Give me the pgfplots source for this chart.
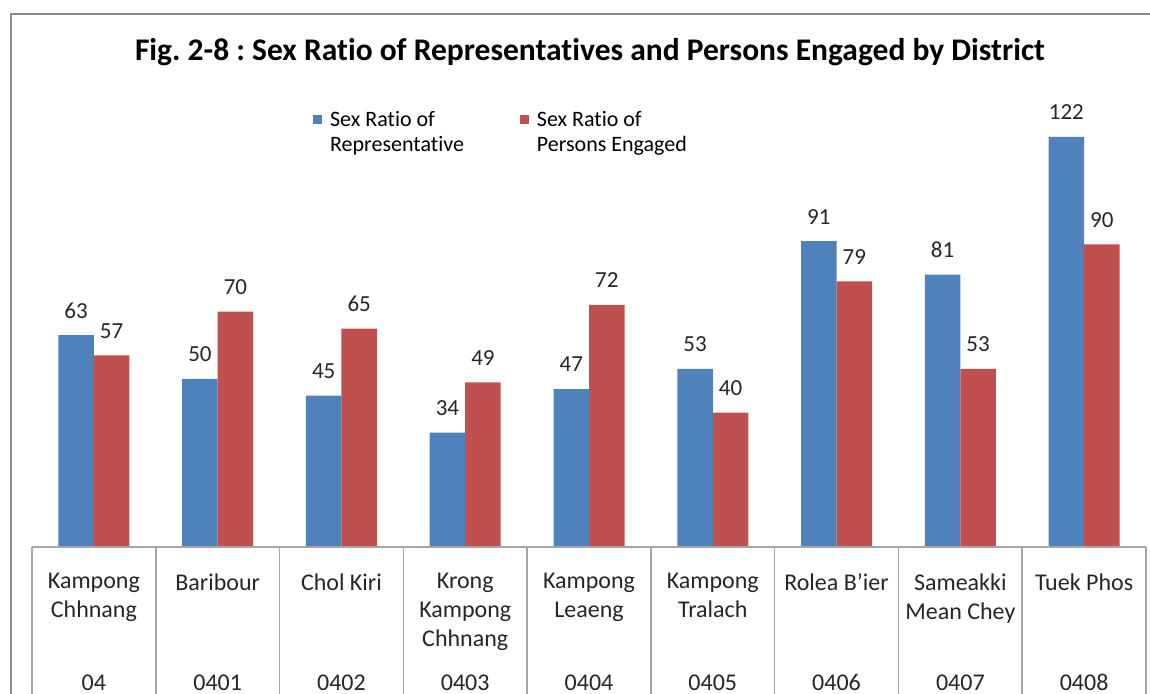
\documentclass[border=0pt]{standalone}
\usepackage{fontspec}
\setmainfont{Carlito}[Ligatures={TeX,NoCommon}]
\usepackage{pgfplots}
\pgfplotsset{compat=1.18}
\frenchspacing

\definecolor{repblue}{HTML}{4F81BD}
\definecolor{engred}{HTML}{C0504D}
\definecolor{tablegray}{HTML}{A6A6A6}
\definecolor{framegray}{HTML}{8C8C8C}
\definecolor{labeltext}{HTML}{262626}

% 1 px of the reference = 0.5pt
\begin{document}
\begin{tikzpicture}
\useasboundingbox (0,0) rectangle (575pt,346.5pt);
\clip (0,0) rectangle (575pt,346.5pt);

% outer chart frame (cut by the picture edge on the right and bottom)
\draw[framegray, line width=1pt] (5.5pt,-20pt) -- (5.5pt,339.5pt) -- (600pt,339.5pt);

\node[anchor=base, font=\bfseries\fontsize{15.75}{18}\selectfont] at (295pt,316.5pt)
  {Fig. 2-8 : Sex Ratio of Representatives and Persons Engaged by District};

\begin{axis}[
  at={(16pt,73pt)}, anchor=south west,
  scale only axis,
  width=557pt, height=226.9pt,
  xmin=-0.5, xmax=8.5, ymin=0, ymax=135,
  ybar=0pt, bar width=17.75pt,
  axis line style={draw=none},
  ytick=\empty,
  xtick={0,...,8},
  major tick length=0pt,
  /pgf/number format/assume math mode=true,
  xticklabels={{Kampong\\Chhnang},{Baribour},{Chol Kiri},{Krong\\Kampong\\Chhnang},{Kampong\\Leaeng},{Kampong\\Tralach},{Rolea B'ier},{Sameakki\\Mean Chey},{Tuek Phos}},
  xticklabel style={anchor=north, align=center, yshift=-9.7pt,
    font=\fontsize{12}{14.5}\selectfont, text=labeltext},
  extra x ticks={0,...,8},
  extra x tick labels={04,0401,0402,0403,0404,0405,0406,0407,0408},
  extra x tick style={xticklabel style={anchor=base, yshift=-61.8pt}},
  nodes near coords,
  every node near coord/.append style={font=\fontsize{11.5}{13}\selectfont, text=labeltext, yshift=5pt},
  clip=false,
  legend columns=2,
  legend style={at={(0.252,0.974)}, anchor=north west, draw=none, fill=none,
    inner sep=0pt, font=\fontsize{11}{12.5}\selectfont,
    cells={anchor=west},
    /tikz/every odd column/.append style={column sep=2pt},
    /tikz/every even column/.append style={column sep=26pt}},
  legend image code/.code={\fill[#1,draw=none] (0pt,-2.25pt) rectangle (4.5pt,2.25pt);},
]
\addplot[fill=repblue, draw=none] coordinates {(0,63) (1,50) (2,45) (3,34) (4,47) (5,53) (6,91) (7,81) (8,122)};
\addplot[fill=engred, draw=none] coordinates {(0,57) (1,70) (2,65) (3,49) (4,72) (5,40) (6,79) (7,53) (8,90)};
\legend{{\begin{tabular}[t]{@{}l@{}}Sex Ratio of\\Representative\end{tabular}},{\begin{tabular}[t]{@{}l@{}}Sex Ratio of\\Persons Engaged\end{tabular}}}
\end{axis}

% category table under the bars
\draw[tablegray, line width=0.75pt] (16pt,73pt) -- (573pt,73pt);
\foreach \k in {0,...,9}
  \draw[tablegray, line width=0.75pt] ({16pt+\k*61.889pt},73pt) -- ({16pt+\k*61.889pt},-10pt);
\end{tikzpicture}
\end{document}
